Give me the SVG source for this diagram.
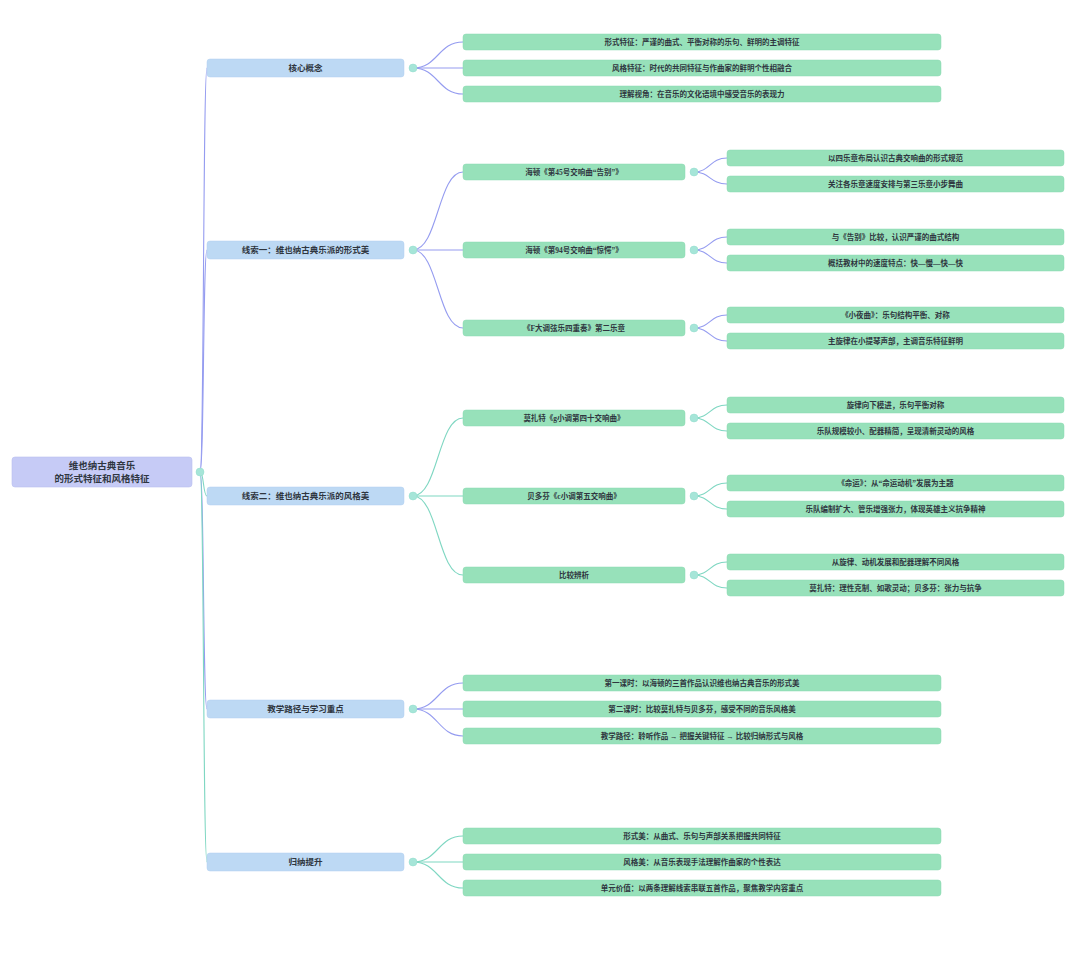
<svg xmlns="http://www.w3.org/2000/svg" width="1080" height="956" viewBox="0 0 1080 956">
<style>
text{font-family:"Liberation Serif","Noto Sans CJK SC",serif;fill:#2f3640;text-anchor:middle;dominant-baseline:central;font-weight:600}
.root rect{fill:#c6cbf6;stroke:#b9bff0;stroke-width:0.6}
.root text{font-size:9.5px}
.l1 rect{fill:#bdd9f4;stroke:#b0cff0;stroke-width:0.5}
.l1 text{font-size:8.5px}
.l2 rect{fill:#97e1ba;stroke:#8bd8b0;stroke-width:0.5}
.l2 text{font-size:7.5px}
.dot{fill:#a6e5d8;stroke:#93ddcc;stroke-width:0.5}
.ep{fill:none;stroke:#959cf0;stroke-width:1.1}
.et{fill:none;stroke:#7fd7c2;stroke-width:1.1}
</style>
<rect width="1080" height="956" fill="#ffffff"/>
<g id="connectors">
<!-- root to L1 -->
<path class="ep" d="M200,472 C204,472 203,68 207,68"/>
<path class="ep" d="M200,472 C204,472 203,250 207,250"/>
<path class="et" d="M200,472 C204,472 203,496 207,496"/>
<path class="ep" d="M200,472 C204,472 203,709 207,709"/>
<path class="et" d="M200,472 C204,472 203,862 207,862"/>
<!-- 核心概念 -->
<path class="ep" d="M413,68 C438,68 438,42 463,42"/>
<path class="ep" d="M413,68 C438,68 438,68 463,68"/>
<path class="ep" d="M413,68 C438,68 438,94 463,94"/>
<!-- 线索一 -->
<path class="ep" d="M413,250 C438,250 438,172 463,172"/>
<path class="ep" d="M413,250 C438,250 438,250 463,250"/>
<path class="ep" d="M413,250 C438,250 438,328 463,328"/>
<path class="ep" d="M694,172 C710,172 710,158 727,158"/>
<path class="ep" d="M694,172 C710,172 710,184 727,184"/>
<path class="ep" d="M694,250 C710,250 710,237 727,237"/>
<path class="ep" d="M694,250 C710,250 710,263 727,263"/>
<path class="ep" d="M694,328 C710,328 710,315 727,315"/>
<path class="ep" d="M694,328 C710,328 710,341 727,341"/>
<!-- 线索二 -->
<path class="et" d="M413,496 C438,496 438,418 463,418"/>
<path class="et" d="M413,496 C438,496 438,496 463,496"/>
<path class="et" d="M413,496 C438,496 438,575 463,575"/>
<path class="et" d="M694,418 C710,418 710,405 727,405"/>
<path class="et" d="M694,418 C710,418 710,431 727,431"/>
<path class="et" d="M694,496 C710,496 710,483 727,483"/>
<path class="et" d="M694,496 C710,496 710,509 727,509"/>
<path class="et" d="M694,575 C710,575 710,562 727,562"/>
<path class="et" d="M694,575 C710,575 710,588 727,588"/>
<!-- 教学路径 -->
<path class="ep" d="M413,709 C438,709 438,683 463,683"/>
<path class="ep" d="M413,709 C438,709 438,709 463,709"/>
<path class="ep" d="M413,709 C438,709 438,736 463,736"/>
<!-- 归纳提升 -->
<path class="et" d="M413,862 C438,862 438,836 463,836"/>
<path class="et" d="M413,862 C438,862 438,862 463,862"/>
<path class="et" d="M413,862 C438,862 438,888 463,888"/>
</g>

<g id="root" class="root">
<rect x="12" y="457" width="180" height="30" rx="3"/>
<text x="102" y="466">维也纳古典音乐</text>
<text x="102" y="478.5">的形式特征和风格特征</text>
<circle class="dot" cx="200" cy="472" r="4"/>
</g>

<g id="n-core" class="l1">
<rect x="207" y="59" width="197" height="18" rx="3"/>
<text x="305.5" y="68">核心概念</text>
<circle class="dot" cx="413" cy="68" r="4"/>
</g>
<g id="n-core-1" class="l2"><rect x="463" y="34" width="478" height="16" rx="3"/><text x="702" y="42">形式特征：严谨的曲式、平衡对称的乐句、鲜明的主调特征</text></g>
<g id="n-core-2" class="l2"><rect x="463" y="60" width="478" height="16" rx="3"/><text x="702" y="68">风格特征：时代的共同特征与作曲家的鲜明个性相融合</text></g>
<g id="n-core-3" class="l2"><rect x="463" y="86" width="478" height="16" rx="3"/><text x="702" y="94">理解视角：在音乐的文化语境中感受音乐的表现力</text></g>

<g id="n-form" class="l1">
<rect x="207" y="241" width="197" height="18" rx="3"/>
<text x="305.5" y="250">线索一：维也纳古典乐派的形式美</text>
<circle class="dot" cx="413" cy="250" r="4"/>
</g>
<g id="n-h45" class="l2"><rect x="463" y="164" width="222" height="16" rx="3"/><text x="574" y="172">海顿《第45号交响曲“告别”》</text><circle class="dot" cx="694" cy="172" r="4"/></g>
<g id="n-h45-1" class="l2"><rect x="727" y="150" width="337" height="16" rx="3"/><text x="895.5" y="158">以四乐章布局认识古典交响曲的形式规范</text></g>
<g id="n-h45-2" class="l2"><rect x="727" y="176" width="337" height="16" rx="3"/><text x="895.5" y="184">关注各乐章速度安排与第三乐章小步舞曲</text></g>
<g id="n-h94" class="l2"><rect x="463" y="242" width="222" height="16" rx="3"/><text x="574" y="250">海顿《第94号交响曲“惊愕”》</text><circle class="dot" cx="694" cy="250" r="4"/></g>
<g id="n-h94-1" class="l2"><rect x="727" y="229" width="337" height="16" rx="3"/><text x="895.5" y="237">与《告别》比较，认识严谨的曲式结构</text></g>
<g id="n-h94-2" class="l2"><rect x="727" y="255" width="337" height="16" rx="3"/><text x="895.5" y="263">概括教材中的速度特点：快—慢—快—快</text></g>
<g id="n-f4" class="l2"><rect x="463" y="320" width="222" height="16" rx="3"/><text x="574" y="328">《F大调弦乐四重奏》第二乐章</text><circle class="dot" cx="694" cy="328" r="4"/></g>
<g id="n-f4-1" class="l2"><rect x="727" y="307" width="337" height="16" rx="3"/><text x="895.5" y="315">《小夜曲》：乐句结构平衡、对称</text></g>
<g id="n-f4-2" class="l2"><rect x="727" y="333" width="337" height="16" rx="3"/><text x="895.5" y="341">主旋律在小提琴声部，主调音乐特征鲜明</text></g>

<g id="n-style" class="l1">
<rect x="207" y="487" width="197" height="18" rx="3"/>
<text x="305.5" y="496">线索二：维也纳古典乐派的风格美</text>
<circle class="dot" cx="413" cy="496" r="4"/>
</g>
<g id="n-m40" class="l2"><rect x="463" y="410" width="222" height="16" rx="3"/><text x="574" y="418">莫扎特《g小调第四十交响曲》</text><circle class="dot" cx="694" cy="418" r="4"/></g>
<g id="n-m40-1" class="l2"><rect x="727" y="397" width="337" height="16" rx="3"/><text x="895.5" y="405">旋律向下模进，乐句平衡对称</text></g>
<g id="n-m40-2" class="l2"><rect x="727" y="423" width="337" height="16" rx="3"/><text x="895.5" y="431">乐队规模较小、配器精简，呈现清新灵动的风格</text></g>
<g id="n-b5" class="l2"><rect x="463" y="488" width="222" height="16" rx="3"/><text x="574" y="496">贝多芬《c小调第五交响曲》</text><circle class="dot" cx="694" cy="496" r="4"/></g>
<g id="n-b5-1" class="l2"><rect x="727" y="475" width="337" height="16" rx="3"/><text x="895.5" y="483">《命运》：从“命运动机”发展为主题</text></g>
<g id="n-b5-2" class="l2"><rect x="727" y="501" width="337" height="16" rx="3"/><text x="895.5" y="509">乐队编制扩大、管乐增强张力，体现英雄主义抗争精神</text></g>
<g id="n-cmp" class="l2"><rect x="463" y="567" width="222" height="16" rx="3"/><text x="574" y="575">比较辨析</text><circle class="dot" cx="694" cy="575" r="4"/></g>
<g id="n-cmp-1" class="l2"><rect x="727" y="554" width="337" height="16" rx="3"/><text x="895.5" y="562">从旋律、动机发展和配器理解不同风格</text></g>
<g id="n-cmp-2" class="l2"><rect x="727" y="580" width="337" height="16" rx="3"/><text x="895.5" y="588">莫扎特：理性克制、如歌灵动；贝多芬：张力与抗争</text></g>

<g id="n-teach" class="l1">
<rect x="207" y="700" width="197" height="18" rx="3"/>
<text x="305.5" y="709">教学路径与学习重点</text>
<circle class="dot" cx="413" cy="709" r="4"/>
</g>
<g id="n-teach-1" class="l2"><rect x="463" y="675" width="478" height="16" rx="3"/><text x="702" y="683">第一课时：以海顿的三首作品认识维也纳古典音乐的形式美</text></g>
<g id="n-teach-2" class="l2"><rect x="463" y="701" width="478" height="16" rx="3"/><text x="702" y="709">第二课时：比较莫扎特与贝多芬，感受不同的音乐风格美</text></g>
<g id="n-teach-3" class="l2"><rect x="463" y="728" width="478" height="16" rx="3"/><text x="702" y="736">教学路径：聆听作品 → 把握关键特征 → 比较归纳形式与风格</text></g>

<g id="n-sum" class="l1">
<rect x="207" y="853" width="197" height="18" rx="3"/>
<text x="305.5" y="862">归纳提升</text>
<circle class="dot" cx="413" cy="862" r="4"/>
</g>
<g id="n-sum-1" class="l2"><rect x="463" y="828" width="478" height="16" rx="3"/><text x="702" y="836">形式美：从曲式、乐句与声部关系把握共同特征</text></g>
<g id="n-sum-2" class="l2"><rect x="463" y="854" width="478" height="16" rx="3"/><text x="702" y="862">风格美：从音乐表现手法理解作曲家的个性表达</text></g>
<g id="n-sum-3" class="l2"><rect x="463" y="880" width="478" height="16" rx="3"/><text x="702" y="888">单元价值：以两条理解线索串联五首作品，聚焦教学内容重点</text></g>
</svg>
